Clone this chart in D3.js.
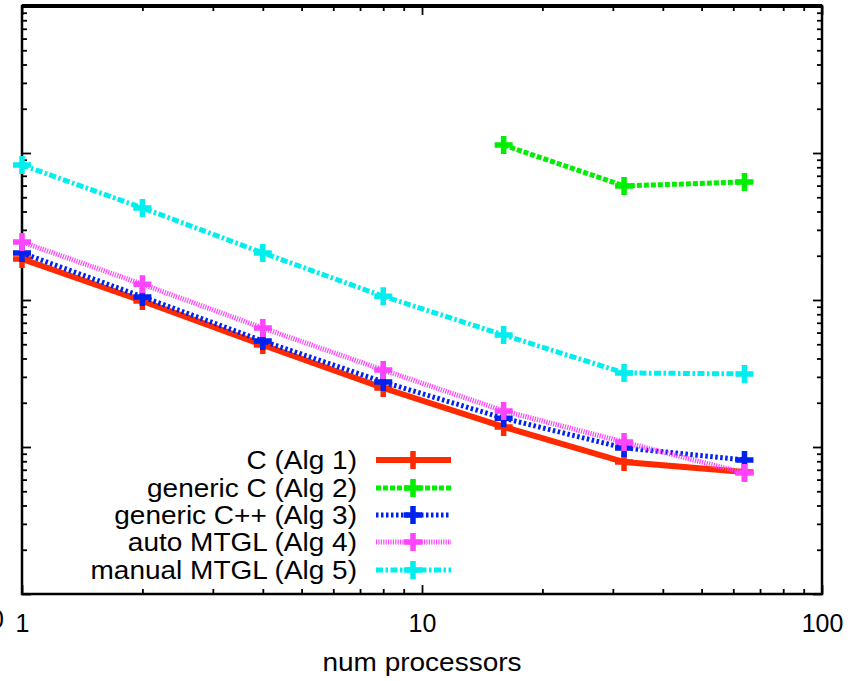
<!DOCTYPE html>
<html>
<head>
<meta charset="UTF-8">
<title>num processors</title>
<script src="https://cdn.jsdelivr.net/npm/d3@7"></script>
<style>
  body { margin: 0; background: #fff; }
  text { font-family: "Liberation Sans", Arial, sans-serif; }
</style>
</head>
<body>
<script>
// processors on the x axis
var procs = [1, 2, 4, 8, 16, 32, 64];
// run time of each algorithm (log scale)
var algC       = [190, 98.4, 49.4, 25.2, 13.7, 7.9, 6.76];
var genericC   = [null, null, null, null, 1133, 597, 635];
var genericCpp = [209, 105, 52.6, 27.7, 15.7, 9.85, 8.16];
var autoMTGL   = [248, 128, 64.5, 33.4, 17.6, 10.8, 6.65];
var manualMTGL = [829, 423, 209, 106, 57.8, 31.9, 31.4];

var seriesNames = ["C (Alg 1)", "generic C (Alg 2)", "generic C++ (Alg 3)", "auto MTGL (Alg 4)", "manual MTGL (Alg 5)"];
var seriesVals  = [algC, genericC, genericCpp, autoMTGL, manualMTGL];
var colors = ["#ff2a00", "#00ee00", "#0022ee", "#ff44ff", "#00eeee"];
var dashes = [null, "5,2", "2.5,2.5", "1.2,1.2", "7,2.5,2.5,2.5"];

var xTicks = [1, 10, 100];
var W = 865, H = 681;
// plot box ("top" is reserved on window, so use pTop etc.)
var pLeft = 22, pRight = 822, pTop = 6, pBottom = 594;

var svg = d3.select("body").append("svg")
  .attr("width", W).attr("height", H);

var x = d3.scaleLog().domain([1, 100]).range([pLeft, pRight]);
var y = d3.scaleLog().domain([1, 10000]).range([pBottom, pTop]);

// minor tick values
var xMinor = [], yMinor = [];
[1, 10].forEach(function(d){ for (var k = 2; k <= 9; k++) xMinor.push(d * k); });
[1, 10, 100, 1000].forEach(function(d){ for (var k = 2; k <= 9; k++) yMinor.push(d * k); });
var yMajor = [1, 10, 100, 1000, 10000];

function tidy(g) {
  g.select(".domain").remove();
  g.selectAll(".tick line").attr("stroke", "#000").attr("stroke-width", 1.8);
}

// stretched text, like the reference's wide Helvetica
function label(px, py, str, anchor) {
  return svg.append("text")
    .attr("transform", "translate(" + px + "," + py + ") scale(1.12,1)")
    .attr("text-anchor", anchor)
    .attr("font-size", 25)
    .attr("fill", "#000")
    .text(str);
}

// bottom
svg.append("g").attr("transform", "translate(0," + pBottom + ")")
  .call(d3.axisBottom(x).tickValues(xTicks).tickSize(-9).tickPadding(20).tickFormat(d3.format("d")))
  .call(tidy)
  .selectAll("text").attr("font-size", 25).attr("fill", "#000")
  .attr("font-family", "Liberation Sans, Arial, sans-serif");
svg.append("g").attr("transform", "translate(0," + pBottom + ")")
  .call(d3.axisBottom(x).tickValues(xMinor).tickSize(-5).tickFormat(""))
  .call(tidy);
// top mirror
svg.append("g").attr("transform", "translate(0," + pTop + ")")
  .call(d3.axisTop(x).tickValues(xTicks).tickSize(-9).tickFormat(""))
  .call(tidy);
svg.append("g").attr("transform", "translate(0," + pTop + ")")
  .call(d3.axisTop(x).tickValues(xMinor).tickSize(-5).tickFormat(""))
  .call(tidy);
// left
svg.append("g").attr("transform", "translate(" + pLeft + ",0)")
  .call(d3.axisLeft(y).tickValues(yMajor).tickSize(-9).tickFormat(""))
  .call(tidy);
svg.append("g").attr("transform", "translate(" + pLeft + ",0)")
  .call(d3.axisLeft(y).tickValues(yMinor).tickSize(-5).tickFormat(""))
  .call(tidy);
// right mirror
svg.append("g").attr("transform", "translate(" + pRight + ",0)")
  .call(d3.axisRight(y).tickValues(yMajor).tickSize(-9).tickFormat(""))
  .call(tidy);
svg.append("g").attr("transform", "translate(" + pRight + ",0)")
  .call(d3.axisRight(y).tickValues(yMinor).tickSize(-5).tickFormat(""))
  .call(tidy);

// frame (top edge is heavier in the reference)
svg.append("rect")
  .attr("x", pLeft).attr("y", pTop).attr("width", pRight - pLeft).attr("height", pBottom - pTop)
  .attr("fill", "none").attr("stroke", "#000").attr("stroke-width", 2.5);
svg.append("line").attr("x1", pLeft).attr("x2", pRight).attr("y1", pTop).attr("y2", pTop)
  .attr("stroke", "#000").attr("stroke-width", 4);

// the y label at bottom left is cut off by the picture's edge, only its last digit shows
svg.append("text").attr("x", 4).attr("y", 628).attr("text-anchor", "end")
  .attr("font-size", 25).text("10");

// x axis title
label(422, 671, "num processors", "middle");

var line = d3.line()
  .defined(function(d){ return d[1] != null; })
  .x(function(d){ return x(d[0]); })
  .y(function(d){ return y(d[1]); });

function plus(g, cx, cy, col) {
  g.append("path")
    .attr("d", "M" + (cx - 9) + "," + cy + "H" + (cx + 9) + "M" + cx + "," + (cy - 9) + "V" + (cy + 9))
    .attr("stroke", col).attr("stroke-width", 5.5).attr("fill", "none");
}

seriesVals.forEach(function(vals, i) {
  var pts = procs.map(function(p, j){ return [p, vals[j]]; });
  var g = svg.append("g");
  g.append("path").datum(pts)
    .attr("d", line)
    .attr("fill", "none")
    .attr("stroke", colors[i])
    .attr("stroke-width", i === 0 ? 6 : 5)
    .attr("stroke-dasharray", dashes[i]);
  pts.forEach(function(d){
    if (d[1] != null) plus(g, x(d[0]), y(d[1]), colors[i]);
  });
});

// legend
var legY = [460, 488, 515, 542, 570];
seriesNames.forEach(function(name, i) {
  var g = svg.append("g");
  label(357, legY[i] + 9, name, "end");
  g.append("line").attr("x1", 376).attr("x2", 451).attr("y1", legY[i]).attr("y2", legY[i])
    .attr("stroke", colors[i]).attr("stroke-width", i === 0 ? 6 : 5).attr("stroke-dasharray", dashes[i]);
  plus(g, 413, legY[i], colors[i]);
});
</script>
</body>
</html>
